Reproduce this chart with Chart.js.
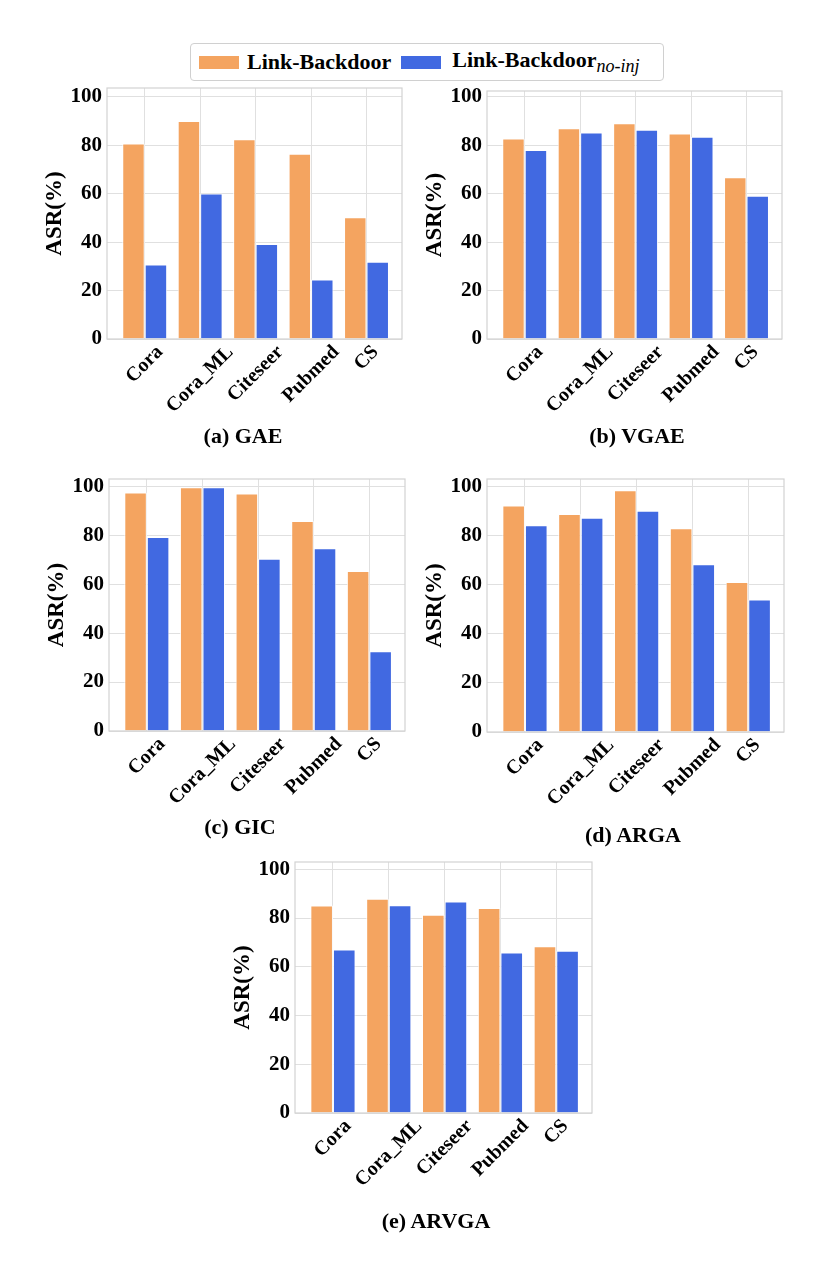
<!DOCTYPE html>
<html>
<head>
<meta charset="utf-8">
<script src="https://cdn.jsdelivr.net/npm/chart.js@4.4.1/dist/chart.umd.min.js"></script>
<style>
  body { margin: 0; background: #fff; width: 830px; height: 1267px; position: relative; overflow: hidden;
         font-family: 'Liberation Serif', 'Times New Roman', serif; color: #000; }
  canvas { position: absolute; }
  .cap { position: absolute; font-weight: bold; font-size: 22px; transform: translate(-50%, -50%); white-space: nowrap; }
  #legend { position: absolute; left: 190px; top: 43px; width: 472px; height: 36px; border: 1px solid #d0d0d0;
            border-radius: 4px; display: flex; align-items: center; font-weight: bold; font-size: 22px; white-space: nowrap; }
  #legend .sw { display: inline-block; width: 40px; height: 13px; }
  #legend sub { font-weight: normal; font-style: italic; font-size: 18px; vertical-align: -5px; }
</style>
</head>
<body>
<div id="legend">
  <span class="sw" style="background:#F4A460;margin-left:8px"></span><span style="margin-left:8px">Link-Backdoor</span>
  <span class="sw" style="background:#4169E1;margin-left:10px"></span><span style="margin-left:11px">Link-Backdoor<sub>no-inj</sub></span>
</div>
<script>
// Data (ASR, %)
const categories = ['Cora', 'Cora_ML', 'Citeseer', 'Pubmed', 'CS'];
const yTicks = [0, 20, 40, 60, 80, 100];

const gaeLB = [80.7, 90.0, 82.4, 76.5, 50.3];
const gaeNoInj = [30.8, 60.1, 39.2, 24.6, 31.9];
const vgaeLB = [82.8, 87.0, 89.1, 84.9, 66.8];
const vgaeNoInj = [78.0, 85.3, 86.4, 83.5, 59.2];
const gicLB = [97.5, 99.6, 97.1, 85.8, 65.4];
const gicNoInj = [79.3, 99.6, 70.4, 74.7, 32.6];
const argaLB = [92.2, 88.8, 98.4, 83.0, 61.1];
const argaNoInj = [84.2, 87.2, 90.1, 68.3, 53.9];
const arvgaLB = [85.1, 87.9, 81.4, 84.1, 68.4];
const arvgaNoInj = [67.1, 85.3, 86.8, 65.9, 66.6];

const ORANGE = '#F4A460';
const BLUE = '#4169E1';
const GRID = '#e0e0e0';
const FONT = "'Liberation Serif', 'Times New Roman', serif";

// panel layout: plot rectangle (l, t, r, b) and caption centre
const panels = [
  { cap: '(a) GAE',   lb: gaeLB,   noInj: gaeNoInj,   ymax: 103.6, l: 107, t: 88,  r: 402, b: 339,  cx: 243, cy: 436 },
  { cap: '(b) VGAE',  lb: vgaeLB,  noInj: vgaeNoInj,  ymax: 102.4, l: 487, t: 91,  r: 782, b: 339,  cx: 637, cy: 436 },
  { cap: '(c) GIC',   lb: gicLB,   noInj: gicNoInj,   ymax: 103,   l: 109, t: 479, r: 405, b: 731,  cx: 240, cy: 827 },
  { cap: '(d) ARGA',  lb: argaLB,  noInj: argaNoInj,  ymax: 103,   l: 487, t: 479, r: 784, b: 732,  cx: 633, cy: 835 },
  { cap: '(e) ARVGA', lb: arvgaLB, noInj: arvgaNoInj, ymax: 103,   l: 295, t: 862, r: 592, b: 1113, cx: 436, cy: 1221 },
];

const Y_AXIS_W = 69, PAD_TOP = 20, PAD_RIGHT = 8, X_AXIS_H = 95;

// grey frame around the plot area
const framePlugin = {
  id: 'frame',
  afterDatasetsDraw(chart) {
    const { ctx, chartArea: a } = chart;
    ctx.save();
    ctx.strokeStyle = '#d2d2d2';
    ctx.lineWidth = 1.2;
    ctx.strokeRect(a.left, a.top, a.right - a.left, a.bottom - a.top);
    ctx.restore();
  }
};

// 45 degree labels centred on the tick (matplotlib style)
const rotatedLabels = {
  id: 'rotatedLabels',
  afterDraw(chart) {
    const s = chart.scales.x;
    const ctx = chart.ctx;
    const size = 20;
    s.ticks.forEach((t) => {
      const text = categories[t.value];
      if (text === undefined) return;
      ctx.save();
      ctx.font = 'bold ' + size + 'px ' + FONT;
      ctx.fillStyle = '#000';
      ctx.textAlign = 'center';
      ctx.textBaseline = 'middle';
      const w = ctx.measureText(text).width;
      const h = size * 0.72;
      const half = (w + h) * Math.SQRT1_2 / 2;
      ctx.translate(s.getPixelForValue(t.value), s.top + 5 + half);
      ctx.rotate(-Math.PI / 4);
      ctx.fillText(text, 0, 0);
      ctx.restore();
    });
  }
};

panels.forEach((p) => {
  const canvas = document.createElement('canvas');
  const w = (p.r - p.l) + Y_AXIS_W + PAD_RIGHT;
  const h = (p.b - p.t) + PAD_TOP + X_AXIS_H;
  canvas.width = w;
  canvas.height = h;
  canvas.style.left = (p.l - Y_AXIS_W) + 'px';
  canvas.style.top = (p.t - PAD_TOP) + 'px';
  document.body.appendChild(canvas);

  const cap = document.createElement('div');
  cap.className = 'cap';
  cap.textContent = p.cap;
  cap.style.left = p.cx + 'px';
  cap.style.top = p.cy + 'px';
  document.body.appendChild(cap);

  new Chart(canvas.getContext('2d'), {
    type: 'bar',
    data: {
      datasets: [
        {
          label: 'Link-Backdoor',
          data: p.lb.map((v, i) => ({ x: i, y: v })),
          backgroundColor: ORANGE,
          borderColor: 'rgba(255,255,255,0.85)',
          borderWidth: 1,
          categoryPercentage: 0.81,
          barPercentage: 1,
        },
        {
          label: 'Link-Backdoor no-inj',
          data: p.noInj.map((v, i) => ({ x: i, y: v })),
          backgroundColor: BLUE,
          borderColor: 'rgba(255,255,255,0.85)',
          borderWidth: 1,
          categoryPercentage: 0.81,
          barPercentage: 1,
        }
      ]
    },
    options: {
      responsive: false,
      animation: false,
      layout: { padding: { top: PAD_TOP, right: PAD_RIGHT, left: 0, bottom: 0 } },
      plugins: { legend: { display: false }, tooltip: { enabled: false } },
      scales: {
        x: {
          type: 'linear',
          min: -0.68,
          max: 4.64,
          offset: false,
          grid: { offset: false, color: GRID, drawTicks: false },
          border: { display: false },
          ticks: { display: false },
          afterBuildTicks: (s) => { s.ticks = categories.map((c, i) => ({ value: i })); },
          afterFit: (s) => { s.height = X_AXIS_H; }
        },
        y: {
          min: 0,
          max: p.ymax,
          grid: { color: GRID, drawTicks: false },
          border: { display: false },
          ticks: { color: '#000', padding: 5, font: { family: FONT, size: 21, weight: 'bold' } },
          title: {
            display: true, text: 'ASR(%)', color: '#000', padding: { top: 3, bottom: 3 },
            font: { family: FONT, size: 23, weight: 'bold' }
          },
          afterBuildTicks: (s) => { s.ticks = yTicks.map((v) => ({ value: v })); },
          afterFit: (s) => { s.width = Y_AXIS_W; }
        }
      }
    },
    plugins: [framePlugin, rotatedLabels]
  });
});
</script>
</body>
</html>
